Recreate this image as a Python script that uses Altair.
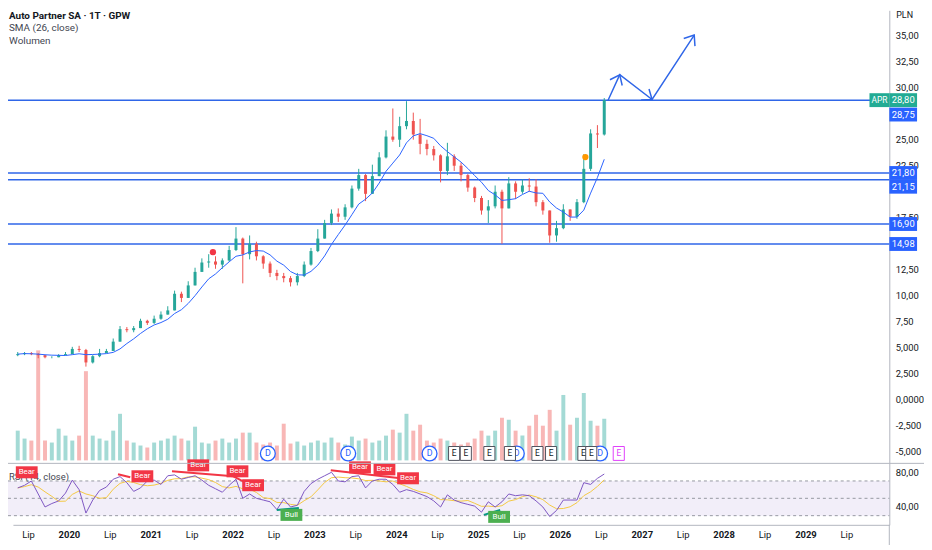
import altair as alt
import pandas as pd

# ---------------- data ----------------
first_month, last_month = "2019-05", "2026-07"

close = [4.4, 4.5, 4.4, 4.3, 4.1, 4.1, 4.3, 4.4,
         4.9, 4.8, 3.6, 4.2, 4.5, 4.7, 5.6, 6.8, 6.7, 6.9, 7.6, 7.4,
         7.8, 8.2, 8.6, 10.2, 9.8, 11.0, 12.3, 13.2, 13.3, 13.0, 13.4, 14.4,
         15.5, 14.0, 15.0, 13.8, 13.1, 12.2, 11.9, 11.7, 11.3, 11.9, 13.0, 14.3,
         15.5, 17.0, 17.9, 17.6, 18.5, 20.3, 21.6, 19.8, 21.5, 23.3, 25.3, 25.0,
         26.3, 26.8, 25.5, 24.6, 24.1, 23.5, 22.0, 23.4, 22.5, 21.6, 20.4, 19.4,
         18.2, 18.6, 20.0, 18.4, 20.8, 20.0, 20.6, 20.5, 19.0, 18.2, 15.8, 16.5,
         18.3, 17.6, 19.0, 22.2, 25.6, 25.5, 28.8]
high = [4.6, 4.6, 4.6, 4.5, 4.3, 4.2, 4.4, 4.6,
        5.1, 5.2, 4.9, 4.3, 4.9, 4.9, 5.9, 7.1, 7.0, 7.1, 7.8, 7.7,
        8.1, 8.5, 9.0, 10.5, 10.4, 11.4, 12.7, 13.6, 14.0, 13.8, 13.6, 14.8,
        16.6, 15.6, 15.8, 15.2, 13.9, 13.3, 12.5, 12.2, 11.9, 12.2, 13.3, 14.6,
        16.4, 17.3, 18.3, 18.4, 18.8, 20.6, 22.2, 21.7, 22.6, 23.8, 25.9, 28.0,
        27.2, 28.7, 27.6, 27.0, 25.0, 24.4, 23.6, 24.7, 23.6, 22.8, 21.7, 20.5,
        19.6, 19.2, 20.6, 20.2, 21.4, 21.0, 21.2, 21.3, 21.2, 19.2, 17.6, 17.2,
        18.8, 18.3, 19.3, 23.6, 26.0, 26.4, 29.0]
low = [4.2, 4.3, 4.3, 4.0, 4.0, 4.0, 4.1, 4.3,
       4.4, 4.6, 3.2, 3.5, 4.1, 4.5, 4.7, 5.6, 6.5, 6.5, 6.9, 7.2,
       7.3, 7.7, 8.2, 8.6, 9.4, 10.4, 11.0, 12.3, 12.7, 12.6, 12.6, 13.3,
       14.3, 11.2, 13.5, 13.4, 12.6, 11.8, 11.5, 11.3, 10.9, 11.0, 11.8, 12.9,
       14.2, 15.8, 16.8, 17.1, 17.3, 18.4, 20.1, 19.1, 19.8, 21.5, 23.2, 24.8,
       24.3, 26.0, 25.0, 23.6, 23.5, 23.0, 20.9, 21.6, 22.0, 21.0, 20.0, 19.0,
       17.8, 17.0, 18.4, 15.0, 19.6, 19.3, 19.8, 20.0, 18.6, 17.8, 15.1, 15.2,
       16.4, 17.2, 17.4, 18.9, 22.0, 24.2, 25.4]
volume = [30, 22, 20, 111, 20, 18, 32, 25,
          20, 25, 90, 25, 22, 20, 30, 47, 20, 18, 15, 13,
          18, 20, 22, 25, 22, 20, 34, 18, 17, 20, 22, 18,
          22, 28, 28, 18, 16, 18, 15, 37, 17, 19, 15, 18,
          20, 18, 23, 18, 16, 24, 20, 22, 18, 20, 25, 31,
          28, 47, 30, 36, 20, 18, 22, 20, 18, 16, 18, 22,
          30, 25, 30, 43, 41, 30, 25, 35, 46, 35, 51, 30,
          66, 36, 43, 68, 40, 35, 42]
rsi = [62, 65, 70, 55, 40, 44, 47, 56,
       71, 60, 33, 48, 59, 63, 72, 75, 68, 58, 62, 70,
       71, 66, 76, 77, 72, 74, 76, 71, 65, 61, 57, 65,
       72, 50, 55, 50, 48, 46, 37, 49, 40, 42, 58, 67,
       72, 76, 80, 70, 69, 75, 76, 62, 70, 72, 72, 66,
       57, 60, 58, 55, 52, 47, 40, 54, 48, 45, 43, 41,
       34, 46, 40, 46, 55, 53, 54, 53, 47, 40, 29, 36,
       48, 48, 48, 68, 66, 73, 78]
first_open = 4.3

level_prices = [28.80, 21.80, 21.15, 16.90, 14.98]

badge_text = ["28,80", "28,75", "21,80", "21,15", "16,90", "14,98"]
badge_price = [28.80, 28.75, 21.80, 21.15, 16.90, 14.98]
badge_color = ["#22ab94", "#2962ff", "#2962ff", "#2962ff", "#2962ff", "#2962ff"]
badge_shift = [0, 14, 0, 7, 0, 0]

arrow_t = [2026.587, 2026.731, 2027.126, 2027.641]
arrow_p = [28.76, 31.24, 28.86, 35.05]
arrow_head_angle = [25, 126, 34]

signal_t = [2021.760, 2026.311]
signal_p = [14.19, 23.33]
signal_color = ["#f23645", "#ff9800"]

div_color = ["#f23645", "#f23645", "#f23645", "#f23645", "#089981", "#089981"]
div_t1 = [2020.60, 2021.26, 2022.01, 2023.20, 2022.54, 2025.07]
div_r1 = [77.7, 81.1, 75.4, 82.3, 36.6, 30.9]
div_t2 = [2020.75, 2022.01, 2022.16, 2024.05, 2022.81, 2025.27]
div_r2 = [74.3, 75.4, 68.0, 73.1, 38.9, 36.6]

lab_kind = ["Bear", "Bear", "Bear", "Bear", "Bear", "Bull", "Bear", "Bear", "Bear", "Bull"]
lab_t = [2019.485, 2020.898, 2021.581, 2022.060, 2022.251, 2022.719, 2023.557, 2023.856, 2024.144, 2025.257]
lab_r = [80.0, 75.4, 88.0, 81.1, 65.1, 30.9, 85.7, 83.4, 73.1, 28.6]

dividend_t = [2022.431, 2023.413, 2024.407, 2025.473, 2026.491]
earnings_t = [2024.707, 2024.850, 2025.138, 2025.389, 2025.725, 2025.892, 2026.287, 2026.383]
next_earnings_t = [2026.719]

x_ticks = [2019.5 + 0.5 * i for i in range(21)]
price_ticks = [-5, -2.5, 0, 2.5, 5, 7.5, 10, 12.5, 17.5, 22.5, 25, 30, 32.5, 35]
rsi_ticks = [40, 80]
rsi_levels = [70, 50, 30]
rsi_band = [30, 70]

# ---------------- tables ----------------
periods = pd.period_range(first_month, last_month, freq="M")
n = len(periods)
assert n == len(close) == len(high) == len(low) == len(volume) == len(rsi)
t = [p.year + (p.month - 0.5) / 12 for p in periods]
opens = [first_open] + close[:-1]
df = pd.DataFrame({
    "t": t, "open": opens, "close": close,
    "high": [max(h, o, c) for h, o, c in zip(high, opens, close)],
    "low": [min(l, o, c) for l, o, c in zip(low, opens, close)],
    "vol": volume, "rsi": rsi,
})
df["col"] = ["#26a69a" if c >= o else "#ef5350" for o, c in zip(opens, close)]

# ---------------- styling ----------------
FONT = "Roboto"
W, H = 884, 519
DRAW = "#2f66e8"
AX = "#b2b5be"
XS = alt.Scale(domain=[2019.3772, 2029.9641], nice=False, zero=False)
PS = alt.Scale(domain=[-6.095, 37.429], range=[457, 0], nice=False, zero=False)
RS = alt.Scale(domain=[19.43, 90.29], range=[519, 457], nice=False, zero=False)
VS = alt.Scale(domain=[0, 454], range=[454, 0], nice=False, zero=False)

x_axis = alt.Axis(values=x_ticks, title=None, grid=False, ticks=False,
                  labelExpr="datum.value % 1 == 0 ? toString(datum.value) : 'Lip'",
                  labelFontWeight=alt.condition("datum.value % 1 == 0", alt.value("bold"), alt.value("normal")),
                  domainColor=AX, labelColor="#131722", labelFontSize=9.5, labelFont=FONT,
                  labelPadding=5, labelOverlap=False, labelFlush=False)
PRICE_EXPR = ("datum.value >= 7.5 ? replace(format(datum.value, '.2f'), '.', ',') : "
              "datum.value == 0 ? '0,0000' : "
              "(datum.value < 0 ? '-' : '') + replace(format(abs(datum.value), '.3f'), '.', ',')")
p_axis = alt.Axis(orient="right", values=price_ticks, labelExpr=PRICE_EXPR, title=None, grid=False,
                  ticks=False, domainColor=AX, labelColor="#131722", labelFontSize=9.5, labelFont=FONT,
                  labelPadding=6, labelOverlap=False, labelFlush=False, labelBound=False)
r_axis = alt.Axis(orient="right", values=rsi_ticks, labelExpr="replace(format(datum.value, '.2f'), '.', ',')",
                  title=None, grid=False, ticks=False, domainColor=AX, labelColor="#131722",
                  labelFontSize=9.5, labelFont=FONT, labelPadding=6, labelOverlap=False, labelFlush=False)


def X(f="t"):
    return alt.X(f"{f}:Q", scale=XS, axis=x_axis, title=None)


def PY(f):
    return alt.Y(f"{f}:Q", scale=PS, axis=p_axis, title=None)


def RY(f):
    return alt.Y(f"{f}:Q", scale=RS, axis=r_axis, title=None)


RECT = "M-1,-0.5H1V0.5H-1Z"
CHEVRON = "M-0.7,0.9L0,0L0.7,0.9"

base = alt.Chart(df)

# volume
vol = base.mark_bar(size=4, opacity=0.42).encode(
    x=X(), y=alt.Y("vol:Q", scale=VS, axis=None), y2=alt.datum(0),
    color=alt.Color("col:N", scale=None))

# price pane
levels = alt.Chart(pd.DataFrame({"p": level_prices})).mark_rule(color=DRAW, strokeWidth=1.5).encode(
    y=PY("p"), x=alt.value(-5), x2=alt.value(W))
wicks = base.mark_rule(strokeWidth=1).encode(x=X(), y=PY("low"), y2="high:Q", color=alt.Color("col:N", scale=None))
bodies = base.mark_bar(size=3).encode(x=X(), y=PY("open"), y2="close:Q", color=alt.Color("col:N", scale=None))
sma = base.transform_window(sma="mean(close)", frame=[-5, 0], sort=[alt.SortField("t")]).mark_line(
    color="#2962ff", strokeWidth=1).encode(x=X(), y=PY("sma"))
signals = alt.Chart(pd.DataFrame({"t": signal_t, "p": signal_p, "c": signal_color})).mark_circle(
    size=40, opacity=1).encode(x=X(), y=PY("p"), color=alt.Color("c:N", scale=None))
arrow_df = pd.DataFrame({"t": arrow_t, "p": arrow_p, "i": list(range(len(arrow_t)))})
arrow = alt.Chart(arrow_df).mark_line(color=DRAW, strokeWidth=1.5).encode(x=X(), y=PY("p"), order="i:Q")
heads = alt.Chart(pd.DataFrame({"t": arrow_t[1:], "p": arrow_p[1:], "a": arrow_head_angle})).mark_point(
    shape=CHEVRON, size=380, filled=False, strokeWidth=1.5, color=DRAW, opacity=1).encode(
    x=X(), y=PY("p"), angle=alt.Angle("a:Q", scale=None))

badges = []
for txt, p, c, s in zip(badge_text, badge_price, badge_color, badge_shift):
    bd = alt.Chart(pd.DataFrame({"p": [p], "label": [txt]}))
    badges.append(bd.mark_point(shape=RECT, size=784, filled=True, color=c, opacity=1, strokeWidth=0,
                                yOffset=s).encode(x=alt.value(W + 14), y=PY("p")))
    badges.append(bd.mark_text(color="white", fontSize=9.5, font=FONT, yOffset=s).encode(
        x=alt.value(W + 14), y=PY("p"), text="label:N"))
apr = alt.Chart(pd.DataFrame({"p": [badge_price[0]], "label": ["APR"]}))
badges.append(apr.mark_point(shape="M-1,-0.7H1V0.7H-1Z", size=400, filled=True, color="#22ab94",
                             opacity=1, strokeWidth=0).encode(x=alt.value(W - 10), y=PY("p")))
badges.append(apr.mark_text(color="white", fontSize=8.5, font=FONT).encode(
    x=alt.value(W - 10), y=PY("p"), text="label:N"))

price = alt.layer(levels, wicks, bodies, sma, signals, arrow, heads, *badges)

# RSI pane
band = alt.Chart(pd.DataFrame({"lo": [rsi_band[0]], "hi": [rsi_band[1]]})).mark_rect(
    color="#7e57c2", opacity=0.1).encode(y=RY("hi"), y2="lo:Q", x=alt.value(-5), x2=alt.value(W))
dashes = alt.Chart(pd.DataFrame({"r": rsi_levels})).mark_rule(
    color="#9598a1", strokeDash=[3, 3], strokeWidth=1).encode(y=RY("r"), x=alt.value(-5), x2=alt.value(W))
rsi_line = base.mark_line(color="#7e57c2", strokeWidth=1).encode(x=X(), y=RY("rsi"))
rsi_ma = base.transform_window(ma="mean(rsi)", frame=[-3, 0], sort=[alt.SortField("t")]).mark_line(
    color="#f5c842", strokeWidth=1).encode(x=X(), y=RY("ma"))
divs = alt.Chart(pd.DataFrame({"t1": div_t1, "t2": div_t2, "r1": div_r1, "r2": div_r2, "c": div_color})).mark_rule(
    strokeWidth=2).encode(x=X("t1"), x2="t2:Q", y=RY("r1"), y2="r2:Q", color=alt.Color("c:N", scale=None))
rsi_title = alt.Chart(pd.DataFrame({"s": ["RSI (14, close)"]})).mark_text(
    align="left", baseline="middle", fontSize=9.5, font=FONT, color="#434651").encode(
    x=alt.value(-4), y=alt.value(471), text="s:N")
lab_df = pd.DataFrame({"t": lab_t, "r": lab_r, "k": lab_kind,
                       "c": ["#f23645" if k == "Bear" else "#4caf50" for k in lab_kind]})
lab_box = alt.Chart(lab_df).mark_point(shape="M-1,-0.55H1V0.55H-1Z", size=484, filled=True, opacity=1,
                                       strokeWidth=0).encode(x=X(), y=RY("r"), color=alt.Color("c:N", scale=None))
lab_txt = alt.Chart(lab_df).mark_text(color="white", fontSize=8, font=FONT).encode(x=X(), y=RY("r"), text="k:N")
rsi_layer = alt.layer(band, dashes, rsi_ma, rsi_line, divs, rsi_title, lab_box, lab_txt)

# overlays with fixed pixel rows
titles = alt.Chart(pd.DataFrame({"s": ["Auto Partner SA · 1T · GPW"]})).mark_text(
    align="left", baseline="middle", fontSize=10, fontWeight="bold", font=FONT, color="#131722").encode(
    x=alt.value(-4), y=alt.value(6), text="s:N")
sub1 = alt.Chart(pd.DataFrame({"s": ["SMA (26, close)"]})).mark_text(
    align="left", baseline="middle", fontSize=10, font=FONT, color="#434651").encode(
    x=alt.value(-4), y=alt.value(18), text="s:N")
sub2 = alt.Chart(pd.DataFrame({"s": ["Wolumen"]})).mark_text(
    align="left", baseline="middle", fontSize=10, font=FONT, color="#434651").encode(
    x=alt.value(-4), y=alt.value(31), text="s:N")
pln = alt.Chart(pd.DataFrame({"s": ["PLN"]})).mark_text(
    align="left", baseline="middle", fontSize=9, font=FONT, color="#131722").encode(
    x=alt.value(W + 7), y=alt.value(5), text="s:N")
sep = alt.Chart(pd.DataFrame({"k": [1]})).mark_rule(color=AX, strokeWidth=1).encode(
    y=alt.value(457), x=alt.value(-5), x2=alt.value(W + 35))
sep2 = alt.Chart(pd.DataFrame({"k": [1]})).mark_rule(color=AX, strokeWidth=1).encode(
    x=alt.value(W), y=alt.value(519), y2=alt.value(540))

div_ev = alt.Chart(pd.DataFrame({"t": dividend_t, "s": ["D"] * len(dividend_t)}))
d_circ = div_ev.mark_point(shape="circle", size=225, fill="white", stroke="#2962ff", strokeWidth=1.3,
                           opacity=1, fillOpacity=1).encode(x=X(), y=alt.value(447))
d_txt = div_ev.mark_text(color="#2962ff", fontSize=9, font=FONT).encode(x=X(), y=alt.value(447), text="s:N")
ear_ev = alt.Chart(pd.DataFrame({"t": earnings_t, "s": ["E"] * len(earnings_t)}))
e_box = ear_ev.mark_point(shape="M-0.8,-1H0.8V1H-0.8Z", size=196, fill="white", stroke="#50535e",
                          strokeWidth=1, opacity=1, fillOpacity=1).encode(x=X(), y=alt.value(447))
e_txt = ear_ev.mark_text(color="#131722", fontSize=8.5, font=FONT).encode(x=X(), y=alt.value(447), text="s:N")
nxt_ev = alt.Chart(pd.DataFrame({"t": next_earnings_t, "s": ["E"]}))
n_box = nxt_ev.mark_point(shape="M-0.8,-1H0.8V1H-0.8Z", size=196, fill="white", stroke="#e040fb",
                          strokeWidth=1, opacity=1, fillOpacity=1).encode(x=X(), y=alt.value(447))
n_txt = nxt_ev.mark_text(color="#e040fb", fontSize=8.5, font=FONT).encode(x=X(), y=alt.value(447), text="s:N")

overlay = alt.layer(sep, sep2, d_circ, d_txt, e_box, e_txt, n_box, n_txt, titles, sub1, sub2, pln)

chart = alt.layer(vol, price, rsi_layer, overlay).resolve_scale(y="independent").properties(
    width=W, height=H,
    autosize=alt.AutoSizeParams(type="none"),
    padding={"left": 5, "top": 0, "right": 35, "bottom": 18},
    background="white",
).configure_view(stroke=None)

chart.save("out.html", embed_options={"renderer": "svg", "actions": False})
